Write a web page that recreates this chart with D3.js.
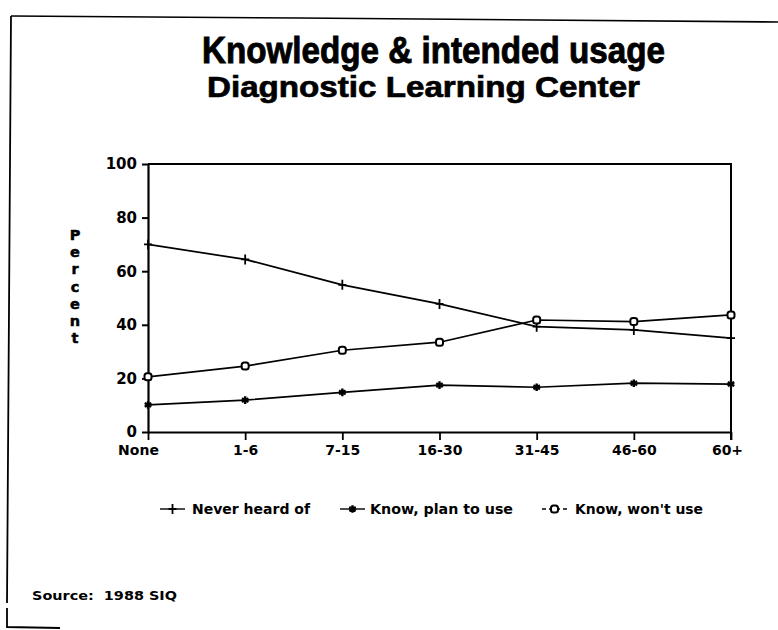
<!DOCTYPE html>
<html>
<head>
<meta charset="utf-8">
<script src="https://cdn.jsdelivr.net/npm/d3@7"></script>
<style>
  html, body { margin: 0; padding: 0; background: #fff; }
  svg { display: block; }
</style>
</head>
<body>
<svg id="chart" width="778" height="630"></svg>
<script>
// Awareness and intended use of the Diagnostic Learning Center, by group
const categories = ["None", "1-6", "7-15", "16-30", "31-45", "46-60", "60+"];
const neverHeard = [70, 64.4, 54.9, 47.8, 39.3, 38.1, 35];
const planToUse  = [10.1, 11.9, 14.8, 17.5, 16.7, 18.2, 17.9];
const wontUse    = [20.6, 24.6, 30.5, 33.5, 41.8, 41.2, 43.7];
const yTicks = [0, 20, 40, 60, 80, 100];
const seriesNames = ["Never heard of", "Know, plan to use", "Know, won't use"];

const svg = d3.select("#chart");
const boldSans = "'DejaVu Sans', Verdana, sans-serif";
const titleFont = "'Liberation Sans', Arial, Helvetica, sans-serif";

// page frame (scanned sheet edges)
svg.append("path")
  .attr("d", "M11,16 L300,18 L778,22")
  .attr("fill", "none").attr("stroke", "#000").attr("stroke-width", 1.6);
svg.append("path")
  .attr("d", "M11,16 L7,603 M7,608 L7,627 L60,628")
  .attr("fill", "none").attr("stroke", "#000").attr("stroke-width", 1.8);

// titles (heavy face: bold plus a thin outline)
svg.append("text")
  .attr("x", 202).attr("y", 63)
  .attr("textLength", 463).attr("lengthAdjust", "spacingAndGlyphs")
  .attr("stroke", "#000").attr("stroke-width", 0.9)
  .style("font-family", titleFont).style("font-weight", "bold")
  .style("font-size", "37px").text("Knowledge & intended usage");
svg.append("text")
  .attr("x", 207).attr("y", 97)
  .attr("textLength", 433).attr("lengthAdjust", "spacingAndGlyphs")
  .attr("stroke", "#000").attr("stroke-width", 0.7)
  .style("font-family", titleFont).style("font-weight", "bold")
  .style("font-size", "30px").text("Diagnostic Learning Center");

// scales
const x = d3.scalePoint().domain(categories).range([148, 731]);
const y = d3.scaleLinear().domain([0, 100]).range([432, 164]);

// plot frame: top and right edges
svg.append("path")
  .attr("d", `M${x.range()[0]},${y(100)} H${x.range()[1]} V${y(0) + 8}`)
  .attr("fill", "none").attr("stroke", "#000").attr("stroke-width", 2);

// y axis
const yAxis = svg.append("g")
  .attr("transform", `translate(${x.range()[0]},0)`)
  .call(d3.axisLeft(y).tickValues(yTicks).tickSize(6).tickSizeOuter(0).tickPadding(5));
yAxis.select(".domain").attr("stroke-width", 2.2);
yAxis.selectAll(".tick line").attr("stroke-width", 2);
yAxis.selectAll("text")
  .style("font-family", boldSans).style("font-weight", "bold")
  .style("font-size", "15px").attr("fill", "#000");

// x axis
const xAxis = svg.append("g")
  .attr("transform", `translate(0,${y(0)})`)
  .call(d3.axisBottom(x).tickSize(8).tickSizeOuter(0).tickPadding(5));
xAxis.select(".domain").attr("stroke-width", 2);
xAxis.selectAll(".tick line").attr("stroke-width", 1.8);
xAxis.selectAll("text")
  .style("font-family", boldSans).style("font-weight", "bold")
  .style("font-size", "14px").attr("fill", "#000")
  .attr("dx", (d, i) => i === 0 ? -10 : (i === categories.length - 1 ? -4 : 0));

// vertical axis title, stacked letters
const yTitle = "Percent".split("");
svg.append("g").selectAll("text").data(yTitle).join("text")
  .attr("x", 75).attr("y", (d, i) => 240 + i * 17.2)
  .attr("text-anchor", "middle")
  .attr("stroke", "#000").attr("stroke-width", 0.5)
  .style("font-family", boldSans).style("font-weight", "bold")
  .style("font-size", "14.5px").text(d => d);

// series lines
const line = d3.line().x((d, i) => x(categories[i])).y(d => y(d));
const allSeries = [neverHeard, planToUse, wontUse];
allSeries.forEach(vals => {
  svg.append("path").datum(vals)
    .attr("d", line)
    .attr("fill", "none").attr("stroke", "#000").attr("stroke-width", 1.7)
    .attr("stroke-linejoin", "round");
});

// marker shapes
function drawMarker(g, kind, cx, cy) {
  if (kind === 0) {
    g.append("path")
      .attr("d", `M${cx - 4},${cy} H${cx + 4} M${cx},${cy - 5} V${cy + 5}`)
      .attr("stroke", "#000").attr("stroke-width", 1.8).attr("fill", "none");
  } else if (kind === 1) {
    g.append("path")
      .attr("d", d3.symbol(d3.symbolAsterisk, 40)())
      .attr("transform", `translate(${cx},${cy})`)
      .attr("stroke", "#000").attr("stroke-width", 2.4).attr("fill", "none");
    g.append("circle").attr("cx", cx).attr("cy", cy).attr("r", 2.2).attr("fill", "#000");
  } else {
    g.append("rect")
      .attr("x", cx - 3.5).attr("y", cy - 3.5).attr("width", 7).attr("height", 7)
      .attr("rx", 2.5).attr("fill", "#fff")
      .attr("stroke", "#000").attr("stroke-width", 2);
  }
}

const markers = svg.append("g");
allSeries.forEach((vals, k) => {
  vals.forEach((v, i) => drawMarker(markers, k, x(categories[i]), y(v)));
});

// legend
const legendY = 509;
const legendItems = [
  { sx: 160, tx: 192, w: 118 },
  { sx: 340, tx: 370, w: 143 },
  { sx: 542, tx: 575, w: 128 }
];
const legend = svg.append("g");
legendItems.forEach((it, k) => {
  const dash = k === 2 ? "4,3" : null;
  legend.append("line")
    .attr("x1", it.sx).attr("x2", it.sx + 25)
    .attr("y1", legendY).attr("y2", legendY)
    .attr("stroke", "#000").attr("stroke-width", 1.4)
    .attr("stroke-dasharray", dash);
  drawMarker(legend, k, it.sx + 12.5, legendY);
  legend.append("text")
    .attr("x", it.tx).attr("y", legendY + 5)
    .attr("textLength", it.w).attr("lengthAdjust", "spacingAndGlyphs")
    .style("font-family", boldSans).style("font-weight", "bold")
    .style("font-size", "13.5px").text(seriesNames[k]);
});

// source note
svg.append("text")
  .attr("x", 32).attr("y", 600)
  .attr("textLength", 145).attr("lengthAdjust", "spacingAndGlyphs")
  .attr("xml:space", "preserve")
  .style("white-space", "pre")
  .style("font-family", boldSans).style("font-weight", "bold")
  .style("font-size", "13px").text("Source:  1988 SIQ");
</script>
</body>
</html>
